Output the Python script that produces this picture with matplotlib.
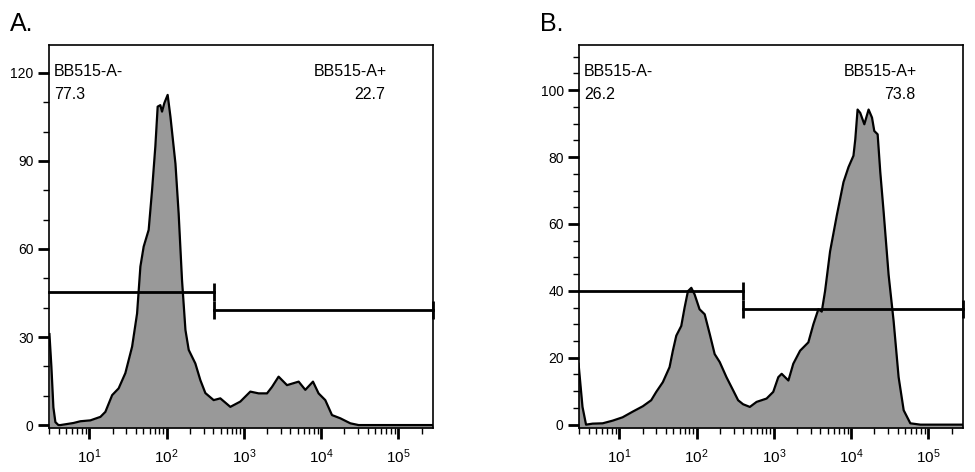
import matplotlib.pyplot as plt
import matplotlib.ticker as mticker
import numpy as np

plt.rcParams['font.family'] = ['Liberation Sans', 'DejaVu Sans']

# Panel A: BB515-A histogram (x = fluorescence, y = count)
a_x = [3.04, 3.22, 3.42, 3.63, 3.97, 4.22, 6.21, 7.65, 10.3, 13.9, 16.1, 19.7, 23.9, 29.2,
       35.7, 41.4, 45.7, 50.4, 58.5, 64.7, 71.4, 76.5, 82.8, 87.1, 93.3, 103, 112, 130,
       143, 158, 175, 193, 235, 273, 317, 406, 495, 667, 898, 1210, 1550, 1990, 2310,
       2810, 3610, 5110, 6230, 7830, 9250, 11300, 13800, 17700, 23800, 30500, 280000]
a_y = [31, 20, 6, 1, 0, 0, 0.7, 1.3, 1.6, 2.8, 4.5, 10.2, 12.5, 17.7,
       26.7, 38, 54, 60.8, 66.5, 80, 95, 108.5, 109, 106.8, 109.7, 112.5, 105, 89,
       72, 49.4, 32.4, 25.6, 21, 15.3, 10.9, 8.5, 9.1, 6.2, 8, 11.4, 10.8, 10.8, 13,
       16.5, 13.6, 14.8, 12, 14.8, 10.8, 8.5, 3.4, 2.3, 0.6, 0, 0]

# Panel B
b_x = [2.96, 3.33, 3.70, 4.50, 6.07, 8.19, 11.0, 14.9, 20.1, 25.8, 30.0, 36.5, 44.6, 49.2,
       54.5, 63.2, 69.8, 77.1, 85.3, 94.2, 109, 127, 148, 171, 199, 243, 296, 344, 399,
       488, 596, 803, 980, 1140, 1260, 1540, 1780, 2180, 2790, 3240, 3760, 4160, 4590,
       5330, 6520, 7950, 9230, 10700, 11300, 12100, 13100, 14800, 16800, 18600, 19900,
       22000, 23800, 26300, 30500, 35400, 41100, 47800, 58300, 78700, 280000]
b_y = [18.2, 5.3, 0, 0.3, 0.4, 1.2, 2.2, 3.9, 5.5, 7.3, 9.8, 12.7, 17.2, 22.1,
       26.6, 29.5, 35, 39.9, 40.9, 38.9, 34.5, 33, 27, 21.1, 18.7, 14.2, 10.3, 7.3, 6.1,
       5.3, 6.8, 7.8, 9.8, 14.2, 15.2, 13.2, 18.2, 22.1, 24.6, 30, 34.5, 33.8, 39.9,
       51.8, 62.6, 72.5, 77, 80.4, 85.3, 94.2, 93.2, 89.8, 94.2, 91.8, 87.8,
       86.8, 75.5, 63.6, 44.8, 31, 14.2, 4.3, 0.4, 0, 0]

gate_split = [414, 395]
gate_neg_y = [45.3, 40]
gate_pos_y = [39.2, 34.5]
neg_pct = ['77.3', '26.2']
pos_pct = ['22.7', '73.8']
panel_labels = ['A.', 'B.']
y_major = [30, 20]
y_minor = [10, 5]
y_top = [129.5, 113.5]

xlim = (3.0, 2.8e5)

fig = plt.figure(figsize=(9.75, 4.72), dpi=100, facecolor='white')
lefts = [49 / 975, 579 / 975]

for i, (xs, ys) in enumerate([(a_x, a_y), (b_x, b_y)]):
    ax = fig.add_axes([lefts[i], 1 - 428 / 472, 384 / 975, 383 / 472])
    ax.set_xscale('log')
    ax.set_xlim(*xlim)
    ax.set_ylim(-1, y_top[i])
    ax.fill_between(xs, ys, -1, color='#999999', lw=0)
    ax.plot(xs, ys, color='black', lw=1.6)

    # gates
    ax.plot([xlim[0], gate_split[i]], [gate_neg_y[i]] * 2, color='black', lw=2,
            marker='|', markersize=13, markeredgewidth=2, markevery=[1], clip_on=False)
    ax.plot([gate_split[i], xlim[1]], [gate_pos_y[i]] * 2, color='black', lw=2,
            marker='|', markersize=13, markeredgewidth=2, clip_on=False)

    ax.text(0.013, 0.93, 'BB515-A-', transform=ax.transAxes, fontsize=11.5, va='center')
    ax.text(0.013, 0.87, neg_pct[i], transform=ax.transAxes, fontsize=11.5, va='center')
    ax.text(0.88, 0.93, 'BB515-A+', transform=ax.transAxes, fontsize=11.5, va='center', ha='right')
    ax.text(0.875, 0.87, pos_pct[i], transform=ax.transAxes, fontsize=11.5, va='center', ha='right')

    ax.yaxis.set_major_locator(mticker.MultipleLocator(y_major[i]))
    ax.yaxis.set_minor_locator(mticker.MultipleLocator(y_minor[i]))
    ax.xaxis.set_major_locator(mticker.LogLocator(base=10, numticks=10))
    ax.xaxis.set_minor_locator(mticker.LogLocator(base=10, subs=np.arange(2, 10), numticks=10))
    ax.tick_params(which='major', length=8, width=2, direction='out')
    ax.tick_params(which='minor', length=4, width=1)
    ax.tick_params(axis='x', which='major', pad=6, labelsize=11)
    ax.tick_params(axis='y', which='major', pad=3, labelsize=10)
    for s in ax.spines.values():
        s.set_linewidth(1.2)

    fig.text(lefts[i] - 39 / 975, 1 - 24 / 472, panel_labels[i], fontsize=18, va='center')

fig.savefig('out.png', dpi=100, facecolor='white')
